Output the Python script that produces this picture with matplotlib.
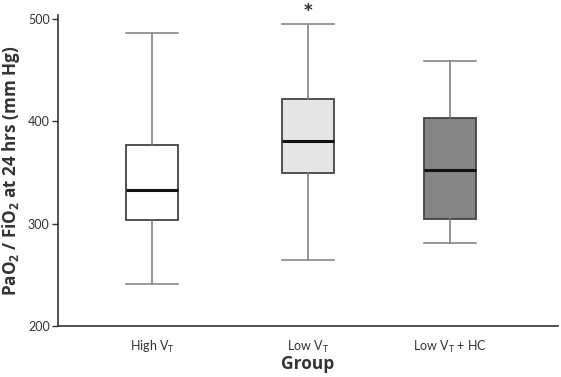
import matplotlib
matplotlib.use('Agg')
import matplotlib.pyplot as plt

# Box summary per group (mm Hg)
groups = ['High V$_\\mathregular{T}$', 'Low V$_\\mathregular{T}$', 'Low V$_\\mathregular{T}$ + HC']
whislo = [241, 265, 281]
q1 = [304, 350, 305]
med = [333, 381, 352]
q3 = [377, 422, 403]
whishi = [486, 495, 459]
fills = ['#ffffff', '#e6e6e6', '#858585']
y_ticks = [200, 300, 400, 500]

plt.rcParams['font.family'] = ['Lato', 'DejaVu Sans']
plt.rcParams['mathtext.default'] = 'regular'

fig = plt.figure(figsize=(5.61, 3.77), dpi=100)
ax = fig.add_axes([58 / 561, 51 / 377, 500 / 561, 311 / 377])

stats = []
for lab, lo, a, m, b, hi in zip(groups, whislo, q1, med, q3, whishi):
    stats.append(dict(label=lab, whislo=lo, q1=a, med=m, q3=b, whishi=hi, fliers=[]))

positions = [1.0, 2.0, 2.91]
bp = ax.bxp(stats, positions=positions, widths=0.333, patch_artist=True,
            showfliers=False,
            boxprops=dict(edgecolor='#444444', linewidth=1.3),
            medianprops=dict(color='#111111', linewidth=2.2),
            whiskerprops=dict(color='#777777', linewidth=1.1),
            capprops=dict(color='#888888', linewidth=1.2),
            capwidths=0.333)
for patch, c in zip(bp['boxes'], fills):
    patch.set_facecolor(c)

# significance marker over Low VT
ax.annotate('*', xy=(positions[1], whishi[1]), xytext=(0, 7),
            textcoords='offset points', ha='center', va='center',
            fontsize=18, fontweight='bold', color='#333333',
            annotation_clip=False)

ax.set_xlim(0.397, 3.603)
ax.set_ylim(200, 504)
ax.set_yticks(y_ticks)
ax.tick_params(axis='y', direction='out', length=4, width=1, colors='#333333',
               labelsize=9, pad=2)
ax.tick_params(axis='x', length=0, labelsize=9, colors='#333333', pad=9)

ax.spines['top'].set_visible(False)
ax.spines['right'].set_visible(False)
for s in ['left', 'bottom']:
    ax.spines[s].set_color('#333333')
    ax.spines[s].set_linewidth(1.2)

ax.set_ylabel('PaO$_2$ / FiO$_2$ at 24 hrs (mm Hg)', fontsize=12.3,
              fontweight='bold', color='#333333', labelpad=4,
              family=['Open Sans', 'DejaVu Sans'])
ax.set_xlabel('Group', fontsize=12.5, fontweight='bold', color='#333333',
              labelpad=0, family=['Open Sans', 'DejaVu Sans'])

fig.savefig('out.png', dpi=100)
